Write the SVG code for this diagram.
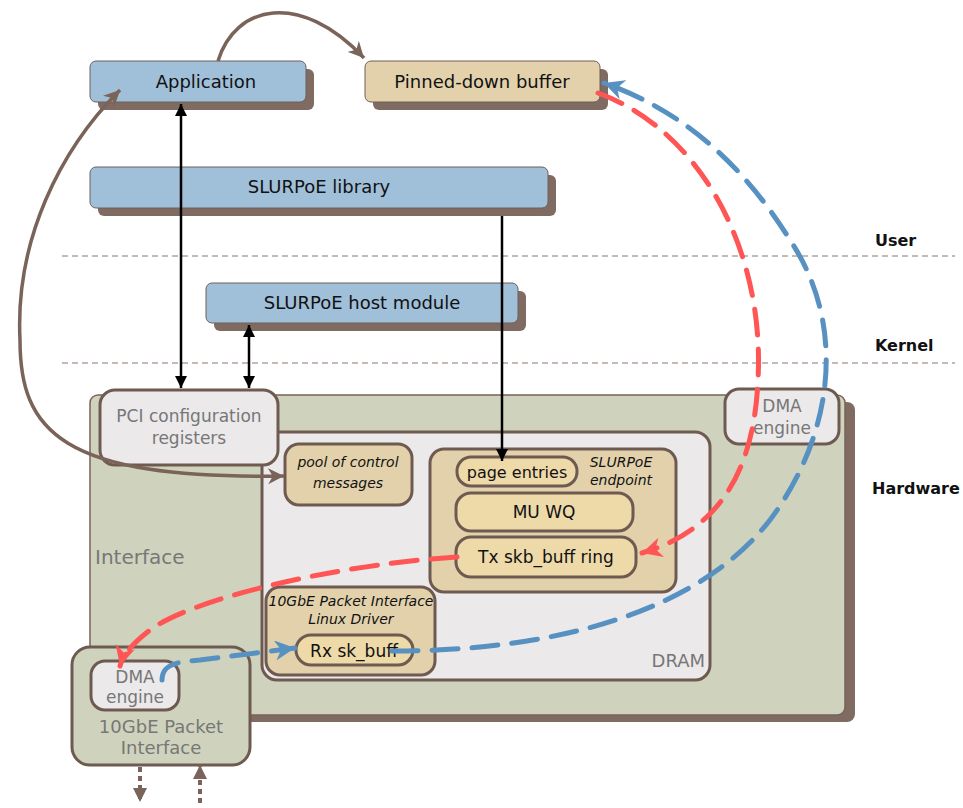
<svg xmlns="http://www.w3.org/2000/svg" width="963" height="808" viewBox="0 0 963 808">
<defs>
<style>
text{font-family:"DejaVu Sans","Liberation Sans",sans-serif;}
.lbl{font-size:18px;fill:#111;text-anchor:middle;}
.gray{font-size:17px;fill:#777;text-anchor:middle;}
.it{font-size:14px;font-style:italic;fill:#111;text-anchor:middle;}
.lay{font-size:16px;font-weight:bold;fill:#111;}
.blue{fill:#a0bfd9;stroke:#6e6058;stroke-width:1;}
.tan{fill:#e3d1ac;stroke:#6e6058;stroke-width:1;}
.shadow{fill:#7f6b62;}
.hw{stroke:#6e5a50;stroke-width:3;}
.lt{fill:#ebe9ea;}
.tanh{fill:#e3d1ac;}
.tanl{fill:#eed9a9;}
.sep{stroke:#8c7469;stroke-width:1;stroke-dasharray:6 4;fill:none;}
.blk{stroke:#000;stroke-width:2.5;fill:none;}
.brn{stroke:#7a6358;stroke-width:3.5;fill:none;}
.red{stroke:#ff5555;stroke-width:5;fill:none;stroke-dasharray:26 14;stroke-linecap:round;}
.blu{stroke:#5791c2;stroke-width:5;fill:none;stroke-dasharray:26 14;stroke-linecap:round;}
.dot{stroke:#7a6358;stroke-width:4;fill:none;stroke-dasharray:5 4;}
</style>
<marker id="ab" markerWidth="13" markerHeight="12" refX="10" refY="5" orient="auto-start-reverse" markerUnits="userSpaceOnUse" viewBox="0 0 10 10"><path d="M0,0 L10,5 L0,10 z" fill="#000"/></marker>
<marker id="abr" markerWidth="16" markerHeight="16" refX="10" refY="5" orient="auto-start-reverse" markerUnits="userSpaceOnUse" viewBox="0 0 10 10"><path d="M0,0 L10,5 L0,10 L3,5 z" fill="#7a6358"/></marker>
<marker id="ared" markerWidth="20" markerHeight="20" refX="10" refY="5" orient="auto" markerUnits="userSpaceOnUse" viewBox="0 0 10 10"><path d="M0,0 L10,5 L0,10 L3,5 z" fill="#ff5555"/></marker>
<marker id="ablu" markerWidth="20" markerHeight="20" refX="10" refY="5" orient="auto" markerUnits="userSpaceOnUse" viewBox="0 0 10 10"><path d="M0,0 L10,5 L0,10 L3,5 z" fill="#5791c2"/></marker>
<marker id="adot" markerWidth="14" markerHeight="14" refX="10" refY="5" orient="auto" markerUnits="userSpaceOnUse" viewBox="0 0 10 10"><path d="M0,0 L10,5 L0,10 z" fill="#7a6358"/></marker>
</defs>
<rect width="963" height="808" fill="#fff"/>

<g id="layers">
<line class="sep" x1="62" y1="256" x2="955" y2="256"/>
<line class="sep" x1="62" y1="363" x2="955" y2="363"/>
<text class="lay" x="875" y="246">User</text>
<text class="lay" x="875" y="351">Kernel</text>
<text class="lay" x="872" y="494">Hardware</text>
</g>

<g id="application">
<rect class="shadow" x="98" y="69" width="216" height="41" rx="6"/>
<rect class="blue" x="90" y="61" width="216" height="41" rx="6"/>
<text class="lbl" x="206" y="88">Application</text>
</g>
<g id="pinned-buffer">
<rect class="shadow" x="373" y="69" width="235" height="41" rx="6"/>
<rect class="tan" x="365" y="61" width="235" height="41" rx="6"/>
<text class="lbl" x="482" y="88">Pinned-down buffer</text>
</g>
<g id="slurpoe-library">
<rect class="shadow" x="98" y="175" width="458" height="41" rx="6"/>
<rect class="blue" x="90" y="167" width="458" height="41" rx="6"/>
<text class="lbl" x="319" y="193">SLURPoE library</text>
</g>
<g id="host-module">
<rect class="shadow" x="214" y="291" width="312" height="40" rx="6"/>
<rect class="blue" x="206" y="283" width="312" height="40" rx="6"/>
<text class="lbl" x="362" y="309">SLURPoE host module</text>
</g>

<g id="interface">
<rect class="shadow" x="100" y="402" width="755" height="320" rx="8"/>
<rect x="90" y="395" width="755" height="320" rx="8" fill="#cfd3bd" stroke="#7a6358" stroke-width="1.5"/>
<text x="95" y="564" style="font-size:20px;fill:#777;">Interface</text>
</g>
<g id="dram">
<rect class="lt hw" x="262" y="432" width="448" height="248" rx="15"/>
<text x="705" y="667" style="font-size:18px;fill:#777;text-anchor:end;">DRAM</text>
</g>
<g id="pci-config">
<rect class="lt hw" x="100" y="390" width="178" height="75" rx="15"/>
<text class="gray" x="189" y="422">PCI configuration</text>
<text class="gray" x="189" y="444">registers</text>
</g>
<g id="pool">
<rect class="tanh hw" x="285" y="444" width="127" height="61" rx="14"/>
<text class="it" x="348" y="467">pool of control</text>
<text class="it" x="348" y="488">messages</text>
</g>
<g id="endpoint">
<rect class="tanh hw" x="430" y="449" width="246" height="143" rx="14"/>
<text class="it" x="621" y="467">SLURPoE</text>
<text class="it" x="621" y="485">endpoint</text>
</g>
<g id="page-entries">
<rect class="tanl hw" x="457" y="457" width="120" height="29" rx="14"/>
<text class="lbl" x="517" y="478" style="font-size:16px">page entries</text>
</g>
<g id="mu-wq">
<rect class="tanl hw" x="456" y="493" width="177" height="38" rx="15"/>
<text class="lbl" x="544" y="518" style="font-size:17px">MU WQ</text>
</g>
<g id="tx-ring">
<rect class="tanl hw" x="456" y="537" width="180" height="40" rx="15"/>
<text class="lbl" x="546" y="563" style="font-size:17px">Tx skb_buff ring</text>
</g>
<g id="linux-driver">
<rect class="tanh hw" x="266" y="587" width="169" height="88" rx="14"/>
<text class="it" x="351" y="606">10GbE Packet Interface</text>
<text class="it" x="351" y="624">Linux Driver</text>
</g>
<g id="rx-skbuff">
<rect class="tanl hw" x="296" y="635" width="117" height="30" rx="15"/>
<text class="lbl" x="354" y="657" style="font-size:17px">Rx sk_buff</text>
</g>
<g id="dma-right">
<rect class="lt hw" x="725" y="389" width="114" height="55" rx="14"/>
<text class="gray" x="782" y="412">DMA</text>
<text class="gray" x="782" y="434">engine</text>
</g>
<g id="packet-interface">
<rect class="hw" fill="#cfd3bd" x="72" y="647" width="178" height="118" rx="18"/>
<text class="gray" x="161" y="733" style="font-size:18px">10GbE Packet</text>
<text class="gray" x="161" y="754" style="font-size:18px">Interface</text>
</g>
<g id="dma-left">
<rect class="lt hw" x="91" y="661" width="88" height="49" rx="14"/>
<text class="gray" x="135" y="683">DMA</text>
<text class="gray" x="135" y="703">engine</text>
</g>

<g id="connectors">
<line class="blk" x1="181" y1="104" x2="181" y2="388" marker-start="url(#ab)" marker-end="url(#ab)"/>
<line class="blk" x1="249" y1="325" x2="249" y2="388" marker-start="url(#ab)" marker-end="url(#ab)"/>
<line class="blk" x1="502" y1="216" x2="502" y2="461" marker-end="url(#ab)"/>
<path class="brn" d="M218 61 C235 5,300 -10,364 58" marker-end="url(#abr)"/>
<path class="brn" d="M120 90 C60 150,15 240,20 340 C20 430,60 480,284 476" marker-start="url(#abr)" marker-end="url(#abr)"/>
<path class="red" d="M598 93 C700 130,765 250,758 380 C754 470,720 530,642 553" marker-end="url(#ared)"/>
<path class="red" d="M457 557 C330 565,190 600,150 630 C132 644,123 655,120 666" marker-end="url(#ared)"/>
<path class="blu" d="M162 680 C162 664,176 662,200 660 L295 648" marker-end="url(#ablu)"/>
<path class="blu" d="M392 651 C560 651,700 610,770 520 C830 440,850 330,790 240 C740 160,680 110,604 83" marker-end="url(#ablu)"/>
<line class="dot" x1="140" y1="767" x2="140" y2="802" marker-end="url(#adot)"/>
<line class="dot" x1="200" y1="803" x2="200" y2="765" marker-end="url(#adot)"/>
</g>
</svg>
